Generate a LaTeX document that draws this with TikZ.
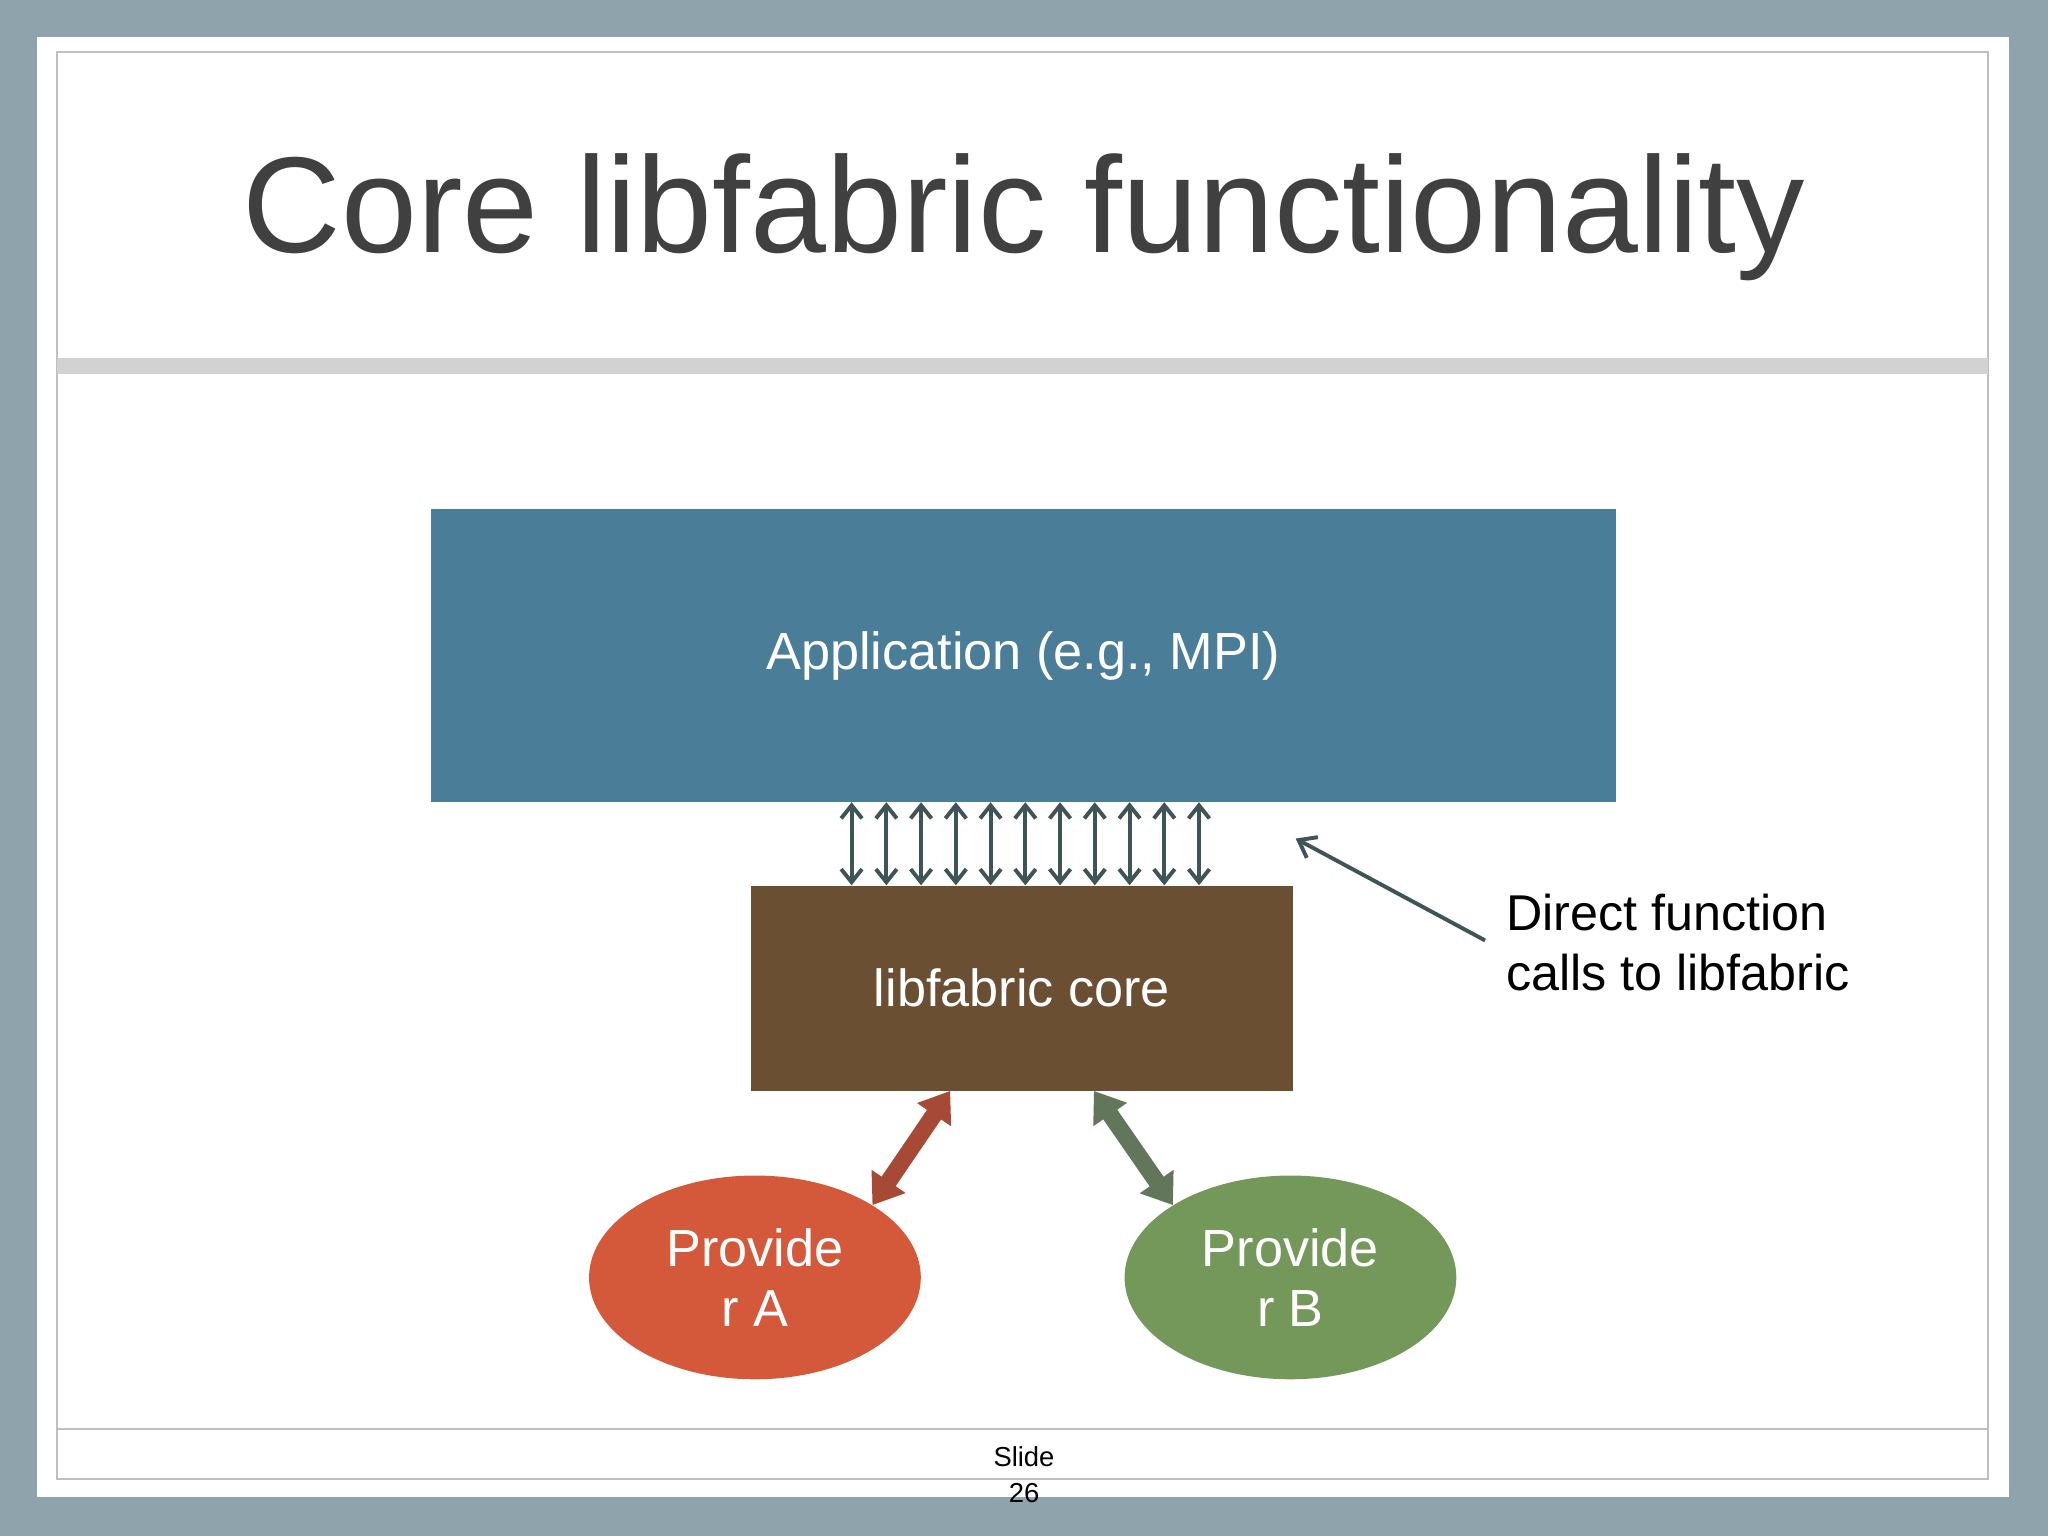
\documentclass[tikz,border=0pt]{standalone}
\usepackage{fontspec}
\setmainfont{Liberation Sans}
\usetikzlibrary{arrows.meta,shapes.geometric,calc}
\definecolor{bgc}{HTML}{8FA3AD}
\definecolor{appc}{HTML}{4A7D97}
\definecolor{corec}{HTML}{6B4F33}
\definecolor{provA}{HTML}{D4583A}
\definecolor{provB}{HTML}{74975A}
\definecolor{arrA}{HTML}{A64A35}
\definecolor{arrB}{HTML}{62775A}
\definecolor{arrgray}{HTML}{3F5457}
\definecolor{titlec}{HTML}{404040}
\tikzset{
  boxtext/.style={text=white, font=\fontsize{40}{46}\selectfont, align=center},
  provider/.style={ellipse, minimum width=254pt, minimum height=156pt, inner sep=0pt, boxtext},
  smallarr/.style={draw=arrgray, line width=3pt, {Straight Barb[length=10pt,width=16pt]}-{Straight Barb[length=10pt,width=16pt]}},
  bigarr/.style={line width=13pt, {Triangle[length=22pt,width=30pt]}-{Triangle[length=22pt,width=30pt]}}
}
\begin{document}
\begin{tikzpicture}[x=1pt,y=-1pt]
\useasboundingbox (0,0) rectangle (1568,1176);
\fill[bgc] (0,0) rectangle (1568,1176);
\fill[white] (28,28) rectangle (1538,1146);
\draw[gray!50, line width=1.5pt] (44,40) rectangle (1522,1132);
\fill[gray!35] (44,274) rectangle (1522,286);
\draw[gray!50, line width=1.5pt] (44,1094) -- (1522,1094);
\node[text=titlec, font=\fontsize{104.5}{116}\selectfont] (title) at (784,166) {Core libfabric functionality};
\node[fill=appc, minimum width=907pt, minimum height=224pt, boxtext] (app) at (783.5,502) {\raisebox{-5pt}{Application (e.g., MPI)}};
\node[fill=corec, minimum width=415pt, minimum height=157pt, boxtext] (core) at (782.5,756.5) {\raisebox{-3pt}{libfabric core}};
\node[provider, fill=provA] (pa) at (578,978) {Provide\\r A};
\node[provider, fill=provB] (pb) at (988,978) {Provide\\r B};
\foreach \i in {0,...,10} {
  \pgfmathsetmacro\xx{652+\i*26.6}
  \draw[smallarr] (\xx,0 |- app.south) -- (\xx,0 |- core.north);
}
\draw[bigarr, arrA] ([xshift=-55pt]core.south) -- (pa.north east);
\draw[bigarr, arrB] ([xshift=55pt]core.south) -- (pb.north west);
\node[anchor=north west, align=left, font=\fontsize{38.5}{46}\selectfont, inner sep=0pt] (note) at (1153,684) {Direct function\\calls to libfabric};
\coordinate (tip) at (992,642);
\draw[arrgray, line width=3pt, -{Straight Barb[length=12pt,width=18pt]}] (1137,720) -- (tip);
\node[font=\fontsize{21}{28}\selectfont, align=center] (slide) at (784,1129) {Slide\\26};
\end{tikzpicture}
\end{document}
